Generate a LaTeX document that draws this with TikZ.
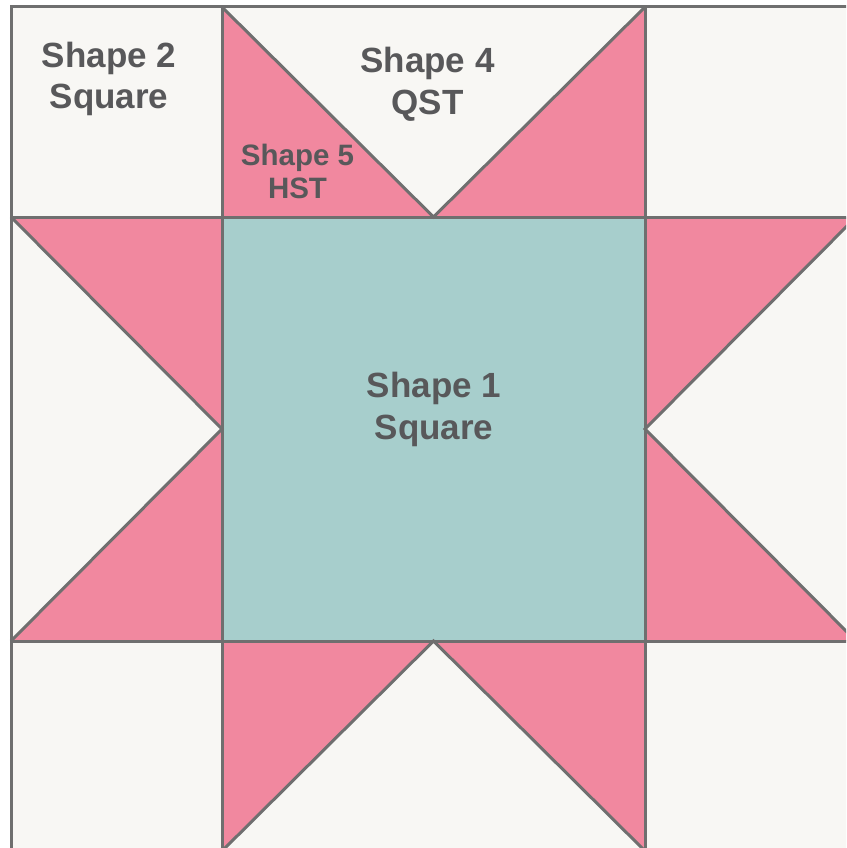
\documentclass[tikz,border=0pt]{standalone}
\usepackage{fontspec}
\setmainfont{Liberation Sans}
\definecolor{cream}{HTML}{F8F7F4}
\definecolor{rose}{HTML}{F1889F}
\definecolor{teal}{HTML}{A7CECC}
\definecolor{seam}{HTML}{6F6F6F}
\definecolor{ink}{HTML}{58585A}
\tikzset{
  seamline/.style={draw=seam,line width=3pt,line join=miter},
  bigtext/.style={inner sep=0pt,anchor=base,text=ink,font=\fontsize{35}{41}\selectfont\bfseries},
  smalltext/.style={inner sep=0pt,anchor=base,text=ink,font=\fontsize{29.5}{33}\selectfont\bfseries}
}
\begin{document}
\begin{tikzpicture}[x=1pt,y=-1pt]
\useasboundingbox (0,0) rectangle (846,848);
\fill[white] (0,0) rectangle (846,848);
\begin{scope}
\clip (0,0) rectangle (846,848);
% grid coordinates
\coordinate (A) at (11,7);
\coordinate (Z) at (856,851);
\coordinate (T) at (433.5,217);
\coordinate (B) at (433.5,641);
\coordinate (L) at (222,429);
\coordinate (R) at (645,429);
\fill[cream] (A) rectangle (Z);
% pink star points
\fill[rose] (222,7) -- (222,217) -- (T) -- cycle;
\fill[rose] (645,7) -- (645,217) -- (T) -- cycle;
\fill[rose] (11,217) -- (222,217) -- (L) -- cycle;
\fill[rose] (11,641) -- (222,641) -- (L) -- cycle;
\fill[rose] (856,217) -- (645,217) -- (R) -- cycle;
\fill[rose] (856,641) -- (645,641) -- (R) -- cycle;
\fill[rose] (222,851) -- (222,641) -- (B) -- cycle;
\fill[rose] (645,851) -- (645,641) -- (B) -- cycle;
% centre square
\fill[teal] (222,217) rectangle (645,641);
% seams
\draw[seamline] (A) rectangle (Z);
\draw[seamline] (222,7) -- (222,851);
\draw[seamline] (645,7) -- (645,851);
\draw[seamline] (11,217) -- (856,217);
\draw[seamline] (11,641) -- (856,641);
\draw[seamline] (222,7) -- (T) -- (645,7);
\draw[seamline] (11,217) -- (L) -- (11,641);
\draw[seamline] (856,217) -- (R) -- (856,641);
\draw[seamline] (222,851) -- (B) -- (645,851);
\end{scope}
% labels
\node[bigtext] (s2a) at (109,68) {Shape 2};
\node[bigtext] (s2b) at (109,109) {Square};
\node[bigtext] (s4a) at (427.5,73) {Shape 4};
\node[bigtext] (s4b) at (427.5,115) {QST};
\node[smalltext] (s5a) at (297.5,165) {Shape 5};
\node[smalltext] (s5b) at (297.5,198) {HST};
\node[bigtext] (s1a) at (434,397) {Shape 1};
\node[bigtext] (s1b) at (434,439) {Square};
\end{tikzpicture}
\end{document}
